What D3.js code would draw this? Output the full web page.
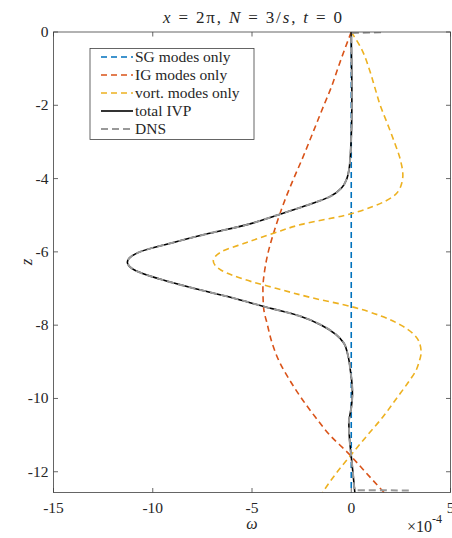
<!DOCTYPE html>
<html>
<head>
<meta charset="utf-8">
<script src="https://cdn.jsdelivr.net/npm/d3@7"></script>
<style>
    body { margin: 0; background: #fff; }
    text { font-family: "Liberation Serif", "DejaVu Serif", serif; fill: #262626; }
</style>
</head>
<body>
<script>
//vorticity values are in units of 1e-4 (axis shows x10^-4)

//SG modes only
var sgZ = [0, -3, -6, -9, -12.566];
var sgW = [0, 0, 0, 0, 0];

//IG modes only
var igZ = [0, -0.5, -1, -1.5, -2, -2.5, -3, -3.5, -4, -4.5, -5, -5.5, -6, -6.5, -7, -7.5, -8, -8.5, -9, -9.5, -10, -10.5, -11, -11.5, -12, -12.566];
var igW = [0, -0.35, -0.68, -1.0, -1.38, -1.75, -2.12, -2.5, -2.9, -3.28, -3.62, -3.92, -4.18, -4.36, -4.45, -4.42, -4.22, -3.98, -3.62, -3.1, -2.5, -1.82, -1.08, -0.14, 0.7, 1.65];

//vortical modes only
var vortZ = [0, -0.5, -1, -1.5, -2, -2.5, -3, -3.5, -3.9, -4.2, -4.5, -4.75, -5, -5.25, -5.5, -5.75, -6, -6.25, -6.5, -6.75, -7, -7.25, -7.5, -7.75, -8, -8.25, -8.5, -8.75, -9, -9.25, -9.5, -10, -10.5, -11, -11.5, -12, -12.566];
var vortW = [0, 0.55, 0.9, 1.18, 1.46, 1.82, 2.17, 2.48, 2.6, 2.5, 2.08, 1.15, -0.3, -2.5, -3.95, -5.3, -6.55, -6.95, -6.55, -5.4, -3.75, -2.0, 0.05, 1.5, 2.5, 3.15, 3.45, 3.52, 3.42, 3.25, 2.95, 2.28, 1.6, 0.82, 0.05, -0.7, -1.45];

//total IVP
var totalZ = [0, -0.5, -1, -1.5, -2, -2.5, -3, -3.25, -3.5, -3.75, -4, -4.25, -4.5, -4.75, -5, -5.25, -5.5, -5.75, -6, -6.28, -6.5, -6.75, -7, -7.25, -7.5, -7.75, -8, -8.25, -8.5, -8.75, -9, -9.25, -9.5, -9.85, -10.25, -10.66, -11, -11.58, -12, -12.566];
var totalW = [0, 0.01, 0.02, 0.03, 0.03, 0.02, -0.01, -0.03, -0.06, -0.11, -0.22, -0.48, -1.1, -2.35, -3.75, -5.2, -7.2, -9.0, -10.65, -11.28, -10.9, -9.6, -7.9, -6.0, -4.35, -2.6, -1.5, -0.78, -0.36, -0.2, -0.1, -0.04, 0.02, 0.06, 0.0, -0.12, -0.1, 0.0, 0.08, 0.18];

//DNS
var dnsZ = [-0.01, -0.03, -0.5, -1, -1.5, -2, -2.5, -3, -3.25, -3.5, -3.75, -4, -4.25, -4.5, -4.75, -5, -5.25, -5.5, -5.75, -6, -6.28, -6.5, -6.75, -7, -7.25, -7.5, -7.75, -8, -8.25, -8.5, -8.75, -9, -9.25, -9.5, -9.85, -10.25, -10.66, -11, -11.58, -12, -12.5, -12.51];
var dnsW = [1.5, 0.0, 0.01, 0.02, 0.03, 0.03, 0.02, -0.01, -0.03, -0.06, -0.11, -0.22, -0.48, -1.1, -2.35, -3.75, -5.2, -7.2, -9.0, -10.65, -11.28, -10.9, -9.6, -7.9, -6.0, -4.35, -2.6, -1.5, -0.78, -0.36, -0.2, -0.1, -0.04, 0.02, 0.06, 0.0, -0.12, -0.1, 0.0, 0.08, 0.18, 2.9];

//ticks and legend
var xTicks = [-15, -10, -5, 0, 5];
var yTicks = [0, -2, -4, -6, -8, -10, -12];
var legendLabels = ["SG modes only", "IG modes only", "vort. modes only", "total IVP", "DNS"];

//build plot
var width = 452,
    height = 538;

var svg = d3.select("body")
    .append("svg")
    .attr("width", width)
    .attr("height", height);

//axes box edges
var boxL = 53.5, boxR = 450.5, boxT = 32, boxB = 492.5;

var x = d3.scaleLinear().domain([-15, 5]).range([boxL, boxR]);
var y = d3.scaleLinear().domain([-4 * Math.PI, 0]).range([boxB, boxT]);

//clip to axes box
svg.append("clipPath").attr("id", "clip")
    .append("rect")
    .attr("x", boxL).attr("y", boxT)
    .attr("width", boxR - boxL).attr("height", boxB - boxT);

var plot = svg.append("g").attr("clip-path", "url(#clip)");

var line = d3.line()
    .x(function(d){ return x(d[0]); })
    .y(function(d){ return y(d[1]); })
    .curve(d3.curveMonotoneY);

var series = [
    {w: sgW, z: sgZ, color: "#0072BD", width: 1.6, dash: "6,4"},
    {w: igW, z: igZ, color: "#D95319", width: 1.6, dash: "6,4"},
    {w: vortW, z: vortZ, color: "#EDB120", width: 1.6, dash: "6,4"},
    {w: totalW, z: totalZ, color: "#000000", width: 1.6, dash: null},
    {w: dnsW, z: dnsZ, color: "#999999", width: 2, dash: "7,4"}
];

series.forEach(function(s){
    var pts = s.w.map(function(v, i){ return [v, s.z[i]]; });
    plot.append("path")
        .datum(pts)
        .attr("fill", "none")
        .attr("stroke", s.color)
        .attr("stroke-width", s.width)
        .attr("stroke-dasharray", s.dash)
        .attr("d", line);
});

//axes box
var axisColor = "#404040";
svg.append("rect")
    .attr("x", boxL).attr("y", boxT)
    .attr("width", boxR - boxL).attr("height", boxB - boxT)
    .attr("fill", "none")
    .attr("stroke", axisColor)
    .attr("stroke-width", 0.8);

var tickLen = 4.5;

//x ticks (bottom and top, inward)
xTicks.forEach(function(t){
    var px = x(t);
    svg.append("line").attr("x1", px).attr("x2", px)
        .attr("y1", boxB).attr("y2", boxB - tickLen)
        .attr("stroke", axisColor).attr("stroke-width", 0.8);
    svg.append("line").attr("x1", px).attr("x2", px)
        .attr("y1", boxT).attr("y2", boxT + tickLen)
        .attr("stroke", axisColor).attr("stroke-width", 0.8);
    svg.append("text")
        .attr("x", px).attr("y", 513)
        .attr("text-anchor", "middle")
        .attr("font-size", 15.5)
        .text(t < 0 ? "-" + Math.abs(t) : t);
});

//y ticks (left and right, inward)
yTicks.forEach(function(t){
    var py = y(t);
    svg.append("line").attr("x1", boxL).attr("x2", boxL + tickLen)
        .attr("y1", py).attr("y2", py)
        .attr("stroke", axisColor).attr("stroke-width", 0.8);
    svg.append("line").attr("x1", boxR).attr("x2", boxR - tickLen)
        .attr("y1", py).attr("y2", py)
        .attr("stroke", axisColor).attr("stroke-width", 0.8);
    svg.append("text")
        .attr("x", boxL - 5).attr("y", py + 5)
        .attr("text-anchor", "end")
        .attr("font-size", 15.5)
        .text(t < 0 ? "-" + Math.abs(t) : t);
});

//exponent label
var expo = svg.append("text")
    .attr("x", 407).attr("y", 532)
    .attr("font-size", 16);
expo.append("tspan").text("\u00d710");
expo.append("tspan").attr("dy", -9).attr("font-size", 12).text("-4");

//axis labels
svg.append("text")
    .attr("x", 252).attr("y", 529)
    .attr("text-anchor", "middle")
    .attr("font-size", 16)
    .attr("font-style", "italic")
    .text("\u03c9");

svg.append("text")
    .attr("transform", "translate(32,262) rotate(-90)")
    .attr("text-anchor", "middle")
    .attr("font-size", 17)
    .attr("font-style", "italic")
    .text("z");

//title
var title = svg.append("text")
    .attr("x", 163).attr("y", 23)
    .attr("font-size", 17)
    .attr("textLength", 179)
    .attr("lengthAdjust", "spacing");
title.append("tspan").attr("font-style", "italic").text("x");
title.append("tspan").text(" = 2\u03c0, ");
title.append("tspan").attr("font-style", "italic").text("N");
title.append("tspan").text(" = 3/");
title.append("tspan").attr("font-style", "italic").text("s");
title.append("tspan").text(", ");
title.append("tspan").attr("font-style", "italic").text("t");
title.append("tspan").text(" = 0");

//legend
var legend = svg.append("g");
legend.append("rect")
    .attr("x", 90).attr("y", 48.5)
    .attr("width", 164).attr("height", 91)
    .attr("fill", "#fff")
    .attr("stroke", axisColor)
    .attr("stroke-width", 0.8);

legendLabels.forEach(function(lbl, i){
    var s = series[i];
    var ly = 57 + i * 18;
    legend.append("line")
        .attr("x1", 101).attr("x2", 133)
        .attr("y1", ly).attr("y2", ly)
        .attr("stroke", s.color)
        .attr("stroke-width", s.width)
        .attr("stroke-dasharray", s.dash);
    legend.append("text")
        .attr("x", 135).attr("y", ly + 5)
        .attr("font-size", 15.5)
        .text(lbl);
});
</script>
</body>
</html>
